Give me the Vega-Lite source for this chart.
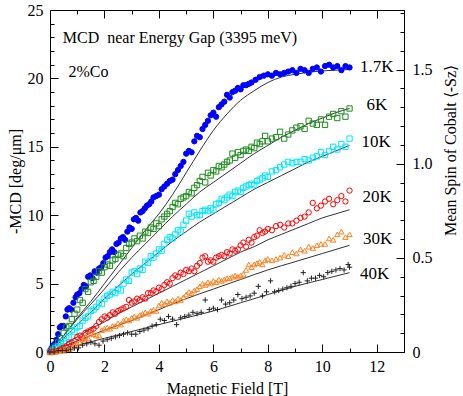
{
"$schema": "https://vega.github.io/schema/vega-lite/v6.json",
"width": 354, "height": 342,
"autosize": "none",
"padding": {"left": 50, "top": 10, "right": 59, "bottom": 44},
"config": {"font": "Liberation Serif", "view": {"stroke": "black", "strokeWidth": 1},
  "axis": {"labelFont": "Liberation Serif", "titleFont": "Liberation Serif", "labelFontSize": 16, "titleFontSize": 16, "titleFontWeight": "normal", "labelColor": "black", "titleColor": "black", "tickColor": "black", "tickWidth": 1, "domain": false, "grid": false, "labelOverlap": false, "labelFlush": false}},
"datasets": {
"pts": [
{"s":"1.7K","B":0.00,"M":0.1},{"s":"1.7K","B":0.06,"M":0.3},{"s":"1.7K","B":0.12,"M":0.5},{"s":"1.7K","B":0.18,"M":0.6},{"s":"1.7K","B":0.24,"M":0.9},{"s":"1.7K","B":0.30,"M":1.3},{"s":"1.7K","B":0.36,"M":1.8},{"s":"1.7K","B":0.42,"M":1.9},{"s":"1.7K","B":0.50,"M":1.9},{"s":"1.7K","B":0.58,"M":2.6},{"s":"1.7K","B":0.64,"M":3.1},{"s":"1.7K","B":0.70,"M":3.2},{"s":"1.7K","B":0.78,"M":3.1},{"s":"1.7K","B":0.86,"M":3.6},{"s":"1.7K","B":0.94,"M":4.0},{"s":"1.7K","B":1.00,"M":4.2},{"s":"1.7K","B":1.08,"M":4.3},{"s":"1.7K","B":1.16,"M":4.6},{"s":"1.7K","B":1.24,"M":4.9},{"s":"1.7K","B":1.32,"M":4.8},{"s":"1.7K","B":1.40,"M":5.5},{"s":"1.7K","B":1.48,"M":5.6},{"s":"1.7K","B":1.56,"M":5.4},{"s":"1.7K","B":1.64,"M":5.9},{"s":"1.7K","B":1.72,"M":5.8},{"s":"1.7K","B":1.80,"M":6.1},{"s":"1.7K","B":1.88,"M":6.2},{"s":"1.7K","B":1.96,"M":6.5},{"s":"1.7K","B":2.04,"M":6.9},{"s":"1.7K","B":2.12,"M":7.0},{"s":"1.7K","B":2.20,"M":7.3},{"s":"1.7K","B":2.28,"M":7.5},{"s":"1.7K","B":2.36,"M":7.3},{"s":"1.7K","B":2.44,"M":7.9},{"s":"1.7K","B":2.52,"M":8.0},{"s":"1.7K","B":2.60,"M":8.3},{"s":"1.7K","B":2.68,"M":8.4},{"s":"1.7K","B":2.76,"M":8.2},{"s":"1.7K","B":2.84,"M":8.8},{"s":"1.7K","B":2.92,"M":9.1},{"s":"1.7K","B":3.00,"M":9.0},{"s":"1.7K","B":3.08,"M":9.7},{"s":"1.7K","B":3.16,"M":9.8},{"s":"1.7K","B":3.24,"M":9.6},{"s":"1.7K","B":3.32,"M":10.2},{"s":"1.7K","B":3.40,"M":10.3},{"s":"1.7K","B":3.48,"M":10.5},{"s":"1.7K","B":3.56,"M":10.7},{"s":"1.7K","B":3.64,"M":10.8},{"s":"1.7K","B":3.72,"M":11.0},{"s":"1.7K","B":3.80,"M":11.3},{"s":"1.7K","B":3.90,"M":11.4},{"s":"1.7K","B":4.00,"M":11.5},{"s":"1.7K","B":4.10,"M":11.9},{"s":"1.7K","B":4.20,"M":12.1},{"s":"1.7K","B":4.30,"M":12.3},{"s":"1.7K","B":4.40,"M":12.5},{"s":"1.7K","B":4.50,"M":12.6},{"s":"1.7K","B":4.60,"M":13.0},{"s":"1.7K","B":4.70,"M":13.3},{"s":"1.7K","B":4.80,"M":13.6},{"s":"1.7K","B":4.90,"M":13.9},{"s":"1.7K","B":5.00,"M":14.5},{"s":"1.7K","B":5.10,"M":14.7},{"s":"1.7K","B":5.20,"M":14.6},{"s":"1.7K","B":5.30,"M":15.4},{"s":"1.7K","B":5.40,"M":15.8},{"s":"1.7K","B":5.50,"M":15.7},{"s":"1.7K","B":5.60,"M":16.3},{"s":"1.7K","B":5.70,"M":16.6},{"s":"1.7K","B":5.80,"M":16.9},{"s":"1.7K","B":5.90,"M":17.3},{"s":"1.7K","B":6.00,"M":17.5},{"s":"1.7K","B":6.10,"M":17.2},{"s":"1.7K","B":6.20,"M":17.9},{"s":"1.7K","B":6.30,"M":18.1},{"s":"1.7K","B":6.40,"M":18.3},{"s":"1.7K","B":6.50,"M":18.8},{"s":"1.7K","B":6.60,"M":18.6},{"s":"1.7K","B":6.70,"M":19.0},{"s":"1.7K","B":6.80,"M":19.1},{"s":"1.7K","B":6.90,"M":19.3},{"s":"1.7K","B":7.00,"M":19.2},{"s":"1.7K","B":7.10,"M":19.5},{"s":"1.7K","B":7.20,"M":19.5},{"s":"1.7K","B":7.30,"M":19.6},{"s":"1.7K","B":7.40,"M":19.7},{"s":"1.7K","B":7.55,"M":19.9},{"s":"1.7K","B":7.70,"M":20.1},{"s":"1.7K","B":7.85,"M":20.2},{"s":"1.7K","B":8.00,"M":20.3},{"s":"1.7K","B":8.15,"M":20.2},{"s":"1.7K","B":8.30,"M":20.4},{"s":"1.7K","B":8.45,"M":20.3},{"s":"1.7K","B":8.60,"M":20.4},{"s":"1.7K","B":8.75,"M":20.5},{"s":"1.7K","B":8.90,"M":20.6},{"s":"1.7K","B":9.05,"M":20.4},{"s":"1.7K","B":9.20,"M":20.7},{"s":"1.7K","B":9.35,"M":20.6},{"s":"1.7K","B":9.50,"M":20.4},{"s":"1.7K","B":9.65,"M":20.7},{"s":"1.7K","B":9.80,"M":20.8},{"s":"1.7K","B":9.95,"M":20.5},{"s":"1.7K","B":10.10,"M":20.9},{"s":"1.7K","B":10.25,"M":21.0},{"s":"1.7K","B":10.40,"M":20.8},{"s":"1.7K","B":10.55,"M":20.9},{"s":"1.7K","B":10.70,"M":20.6},{"s":"1.7K","B":10.85,"M":20.9},{"s":"1.7K","B":11.00,"M":20.8},
{"s":"6K","B":0.00,"M":0.0},{"s":"6K","B":0.10,"M":0.2},{"s":"6K","B":0.20,"M":0.4},{"s":"6K","B":0.30,"M":0.7},{"s":"6K","B":0.40,"M":1.0},{"s":"6K","B":0.50,"M":1.4},{"s":"6K","B":0.60,"M":1.8},{"s":"6K","B":0.70,"M":1.9},{"s":"6K","B":0.80,"M":2.4},{"s":"6K","B":0.90,"M":2.8},{"s":"6K","B":1.00,"M":3.1},{"s":"6K","B":1.10,"M":3.8},{"s":"6K","B":1.20,"M":3.6},{"s":"6K","B":1.30,"M":4.6},{"s":"6K","B":1.40,"M":4.4},{"s":"6K","B":1.50,"M":5.1},{"s":"6K","B":1.60,"M":5.2},{"s":"6K","B":1.70,"M":5.5},{"s":"6K","B":1.80,"M":5.9},{"s":"6K","B":1.90,"M":5.8},{"s":"6K","B":2.00,"M":6.2},{"s":"6K","B":2.10,"M":6.4},{"s":"6K","B":2.20,"M":6.3},{"s":"6K","B":2.30,"M":6.7},{"s":"6K","B":2.40,"M":6.8},{"s":"6K","B":2.50,"M":7.1},{"s":"6K","B":2.60,"M":7.2},{"s":"6K","B":2.70,"M":7.0},{"s":"6K","B":2.80,"M":7.6},{"s":"6K","B":2.90,"M":7.9},{"s":"6K","B":3.00,"M":8.0},{"s":"6K","B":3.10,"M":8.3},{"s":"6K","B":3.20,"M":8.1},{"s":"6K","B":3.30,"M":8.5},{"s":"6K","B":3.40,"M":8.3},{"s":"6K","B":3.50,"M":8.8},{"s":"6K","B":3.60,"M":8.7},{"s":"6K","B":3.70,"M":9.1},{"s":"6K","B":3.80,"M":9.0},{"s":"6K","B":3.90,"M":9.4},{"s":"6K","B":4.00,"M":9.2},{"s":"6K","B":4.10,"M":9.7},{"s":"6K","B":4.20,"M":9.9},{"s":"6K","B":4.30,"M":10.1},{"s":"6K","B":4.40,"M":10.3},{"s":"6K","B":4.50,"M":10.6},{"s":"6K","B":4.60,"M":10.9},{"s":"6K","B":4.70,"M":10.8},{"s":"6K","B":4.80,"M":11.2},{"s":"6K","B":4.90,"M":11.3},{"s":"6K","B":5.00,"M":11.4},{"s":"6K","B":5.10,"M":11.7},{"s":"6K","B":5.20,"M":11.6},{"s":"6K","B":5.30,"M":12.0},{"s":"6K","B":5.40,"M":12.2},{"s":"6K","B":5.50,"M":12.5},{"s":"6K","B":5.60,"M":12.8},{"s":"6K","B":5.70,"M":12.4},{"s":"6K","B":5.80,"M":13.1},{"s":"6K","B":5.90,"M":12.9},{"s":"6K","B":6.00,"M":13.3},{"s":"6K","B":6.10,"M":13.2},{"s":"6K","B":6.20,"M":13.6},{"s":"6K","B":6.30,"M":13.5},{"s":"6K","B":6.40,"M":13.7},{"s":"6K","B":6.50,"M":13.9},{"s":"6K","B":6.60,"M":14.0},{"s":"6K","B":6.70,"M":14.5},{"s":"6K","B":6.80,"M":14.2},{"s":"6K","B":6.90,"M":14.6},{"s":"6K","B":7.00,"M":14.4},{"s":"6K","B":7.10,"M":14.7},{"s":"6K","B":7.20,"M":14.8},{"s":"6K","B":7.30,"M":14.7},{"s":"6K","B":7.40,"M":15.0},{"s":"6K","B":7.50,"M":14.9},{"s":"6K","B":7.60,"M":15.3},{"s":"6K","B":7.70,"M":15.2},{"s":"6K","B":7.80,"M":15.4},{"s":"6K","B":7.90,"M":15.8},{"s":"6K","B":8.00,"M":15.4},{"s":"6K","B":8.15,"M":15.6},{"s":"6K","B":8.30,"M":15.7},{"s":"6K","B":8.45,"M":16.1},{"s":"6K","B":8.60,"M":15.6},{"s":"6K","B":8.75,"M":15.9},{"s":"6K","B":8.90,"M":16.2},{"s":"6K","B":9.05,"M":16.4},{"s":"6K","B":9.20,"M":16.5},{"s":"6K","B":9.35,"M":16.3},{"s":"6K","B":9.50,"M":16.9},{"s":"6K","B":9.65,"M":16.7},{"s":"6K","B":9.80,"M":16.6},{"s":"6K","B":9.95,"M":17.0},{"s":"6K","B":10.10,"M":16.6},{"s":"6K","B":10.25,"M":17.2},{"s":"6K","B":10.40,"M":17.4},{"s":"6K","B":10.55,"M":17.1},{"s":"6K","B":10.70,"M":17.6},{"s":"6K","B":10.85,"M":17.2},{"s":"6K","B":11.00,"M":17.8},
{"s":"10K","B":0.00,"M":0.0},{"s":"10K","B":0.10,"M":0.1},{"s":"10K","B":0.20,"M":0.3},{"s":"10K","B":0.30,"M":0.4},{"s":"10K","B":0.40,"M":0.6},{"s":"10K","B":0.50,"M":0.8},{"s":"10K","B":0.60,"M":1.0},{"s":"10K","B":0.70,"M":1.1},{"s":"10K","B":0.80,"M":1.6},{"s":"10K","B":0.90,"M":1.5},{"s":"10K","B":1.00,"M":1.8},{"s":"10K","B":1.10,"M":1.9},{"s":"10K","B":1.20,"M":2.3},{"s":"10K","B":1.30,"M":2.5},{"s":"10K","B":1.40,"M":2.6},{"s":"10K","B":1.50,"M":3.0},{"s":"10K","B":1.60,"M":3.1},{"s":"10K","B":1.70,"M":3.3},{"s":"10K","B":1.80,"M":3.6},{"s":"10K","B":1.90,"M":3.5},{"s":"10K","B":2.00,"M":3.9},{"s":"10K","B":2.10,"M":4.1},{"s":"10K","B":2.20,"M":4.2},{"s":"10K","B":2.30,"M":4.4},{"s":"10K","B":2.40,"M":4.3},{"s":"10K","B":2.50,"M":4.6},{"s":"10K","B":2.60,"M":4.5},{"s":"10K","B":2.70,"M":5.0},{"s":"10K","B":2.80,"M":5.3},{"s":"10K","B":2.90,"M":5.2},{"s":"10K","B":3.00,"M":5.8},{"s":"10K","B":3.10,"M":5.9},{"s":"10K","B":3.20,"M":5.7},{"s":"10K","B":3.30,"M":6.1},{"s":"10K","B":3.40,"M":6.0},{"s":"10K","B":3.50,"M":6.6},{"s":"10K","B":3.60,"M":6.5},{"s":"10K","B":3.70,"M":7.0},{"s":"10K","B":3.80,"M":6.9},{"s":"10K","B":3.90,"M":7.2},{"s":"10K","B":4.00,"M":7.5},{"s":"10K","B":4.10,"M":7.4},{"s":"10K","B":4.20,"M":7.9},{"s":"10K","B":4.30,"M":8.2},{"s":"10K","B":4.40,"M":8.4},{"s":"10K","B":4.50,"M":8.3},{"s":"10K","B":4.60,"M":8.6},{"s":"10K","B":4.70,"M":8.9},{"s":"10K","B":4.80,"M":8.8},{"s":"10K","B":4.90,"M":9.3},{"s":"10K","B":5.00,"M":9.6},{"s":"10K","B":5.10,"M":10.1},{"s":"10K","B":5.20,"M":9.9},{"s":"10K","B":5.30,"M":10.2},{"s":"10K","B":5.40,"M":10.0},{"s":"10K","B":5.50,"M":10.0},{"s":"10K","B":5.60,"M":10.3},{"s":"10K","B":5.70,"M":10.4},{"s":"10K","B":5.80,"M":10.3},{"s":"10K","B":5.90,"M":10.5},{"s":"10K","B":6.00,"M":10.4},{"s":"10K","B":6.10,"M":10.8},{"s":"10K","B":6.20,"M":10.9},{"s":"10K","B":6.30,"M":11.2},{"s":"10K","B":6.40,"M":11.1},{"s":"10K","B":6.50,"M":11.3},{"s":"10K","B":6.60,"M":11.5},{"s":"10K","B":6.70,"M":11.4},{"s":"10K","B":6.80,"M":11.7},{"s":"10K","B":6.90,"M":11.8},{"s":"10K","B":7.00,"M":11.7},{"s":"10K","B":7.10,"M":12.0},{"s":"10K","B":7.20,"M":12.1},{"s":"10K","B":7.30,"M":12.2},{"s":"10K","B":7.40,"M":12.3},{"s":"10K","B":7.50,"M":12.2},{"s":"10K","B":7.60,"M":12.5},{"s":"10K","B":7.70,"M":12.6},{"s":"10K","B":7.80,"M":12.7},{"s":"10K","B":7.90,"M":12.9},{"s":"10K","B":8.00,"M":12.8},{"s":"10K","B":8.15,"M":13.2},{"s":"10K","B":8.30,"M":13.3},{"s":"10K","B":8.45,"M":13.5},{"s":"10K","B":8.60,"M":13.7},{"s":"10K","B":8.75,"M":13.9},{"s":"10K","B":8.90,"M":13.8},{"s":"10K","B":9.05,"M":13.9},{"s":"10K","B":9.20,"M":13.9},{"s":"10K","B":9.35,"M":14.1},{"s":"10K","B":9.50,"M":14.0},{"s":"10K","B":9.65,"M":14.2},{"s":"10K","B":9.80,"M":14.3},{"s":"10K","B":9.95,"M":14.6},{"s":"10K","B":10.10,"M":14.4},{"s":"10K","B":10.25,"M":14.7},{"s":"10K","B":10.40,"M":15.0},{"s":"10K","B":10.55,"M":14.8},{"s":"10K","B":10.70,"M":15.2},{"s":"10K","B":10.85,"M":15.0},{"s":"10K","B":11.00,"M":15.6},
{"s":"20K","B":0.00,"M":0.0},{"s":"20K","B":0.10,"M":0.0},{"s":"20K","B":0.20,"M":0.1},{"s":"20K","B":0.30,"M":0.1},{"s":"20K","B":0.40,"M":0.2},{"s":"20K","B":0.50,"M":0.3},{"s":"20K","B":0.60,"M":0.4},{"s":"20K","B":0.70,"M":0.6},{"s":"20K","B":0.80,"M":0.7},{"s":"20K","B":0.90,"M":0.8},{"s":"20K","B":1.00,"M":1.1},{"s":"20K","B":1.10,"M":1.2},{"s":"20K","B":1.20,"M":1.0},{"s":"20K","B":1.30,"M":1.4},{"s":"20K","B":1.40,"M":1.5},{"s":"20K","B":1.50,"M":1.6},{"s":"20K","B":1.60,"M":1.7},{"s":"20K","B":1.70,"M":1.9},{"s":"20K","B":1.80,"M":2.2},{"s":"20K","B":1.90,"M":2.4},{"s":"20K","B":2.00,"M":2.6},{"s":"20K","B":2.10,"M":2.5},{"s":"20K","B":2.20,"M":2.7},{"s":"20K","B":2.30,"M":2.9},{"s":"20K","B":2.40,"M":2.8},{"s":"20K","B":2.50,"M":3.0},{"s":"20K","B":2.60,"M":3.1},{"s":"20K","B":2.70,"M":3.2},{"s":"20K","B":2.80,"M":3.3},{"s":"20K","B":2.90,"M":3.8},{"s":"20K","B":3.00,"M":3.6},{"s":"20K","B":3.10,"M":3.7},{"s":"20K","B":3.20,"M":3.9},{"s":"20K","B":3.30,"M":3.8},{"s":"20K","B":3.40,"M":4.0},{"s":"20K","B":3.50,"M":3.9},{"s":"20K","B":3.60,"M":4.3},{"s":"20K","B":3.70,"M":4.3},{"s":"20K","B":3.80,"M":4.5},{"s":"20K","B":3.90,"M":4.4},{"s":"20K","B":4.00,"M":4.7},{"s":"20K","B":4.10,"M":4.6},{"s":"20K","B":4.20,"M":4.9},{"s":"20K","B":4.30,"M":5.1},{"s":"20K","B":4.40,"M":5.0},{"s":"20K","B":4.50,"M":5.4},{"s":"20K","B":4.60,"M":5.6},{"s":"20K","B":4.70,"M":5.5},{"s":"20K","B":4.80,"M":5.8},{"s":"20K","B":4.90,"M":5.7},{"s":"20K","B":5.00,"M":6.0},{"s":"20K","B":5.10,"M":5.9},{"s":"20K","B":5.20,"M":6.1},{"s":"20K","B":5.30,"M":5.9},{"s":"20K","B":5.40,"M":6.3},{"s":"20K","B":5.50,"M":6.5},{"s":"20K","B":5.60,"M":6.9},{"s":"20K","B":5.70,"M":7.0},{"s":"20K","B":5.80,"M":6.6},{"s":"20K","B":5.90,"M":6.7},{"s":"20K","B":6.00,"M":6.6},{"s":"20K","B":6.10,"M":6.9},{"s":"20K","B":6.20,"M":7.0},{"s":"20K","B":6.30,"M":7.1},{"s":"20K","B":6.40,"M":7.0},{"s":"20K","B":6.50,"M":7.3},{"s":"20K","B":6.60,"M":7.2},{"s":"20K","B":6.70,"M":7.5},{"s":"20K","B":6.80,"M":7.4},{"s":"20K","B":6.90,"M":7.5},{"s":"20K","B":7.00,"M":7.8},{"s":"20K","B":7.10,"M":8.0},{"s":"20K","B":7.20,"M":7.7},{"s":"20K","B":7.30,"M":8.2},{"s":"20K","B":7.40,"M":8.0},{"s":"20K","B":7.50,"M":8.4},{"s":"20K","B":7.60,"M":8.5},{"s":"20K","B":7.70,"M":8.9},{"s":"20K","B":7.80,"M":8.7},{"s":"20K","B":7.90,"M":8.8},{"s":"20K","B":8.00,"M":9.0},{"s":"20K","B":8.15,"M":8.9},{"s":"20K","B":8.30,"M":9.2},{"s":"20K","B":8.45,"M":9.3},{"s":"20K","B":8.60,"M":9.1},{"s":"20K","B":8.75,"M":9.4},{"s":"20K","B":8.90,"M":9.4},{"s":"20K","B":9.05,"M":9.6},{"s":"20K","B":9.20,"M":9.8},{"s":"20K","B":9.35,"M":9.9},{"s":"20K","B":9.50,"M":10.2},{"s":"20K","B":9.65,"M":10.9},{"s":"20K","B":9.80,"M":10.5},{"s":"20K","B":9.95,"M":10.7},{"s":"20K","B":10.10,"M":11.0},{"s":"20K","B":10.25,"M":11.2},{"s":"20K","B":10.40,"M":10.8},{"s":"20K","B":10.55,"M":11.1},{"s":"20K","B":10.70,"M":11.4},{"s":"20K","B":10.85,"M":11.0},{"s":"20K","B":11.00,"M":11.8},
{"s":"30K","B":0.00,"M":0.0},{"s":"30K","B":0.10,"M":0.0},{"s":"30K","B":0.20,"M":0.0},{"s":"30K","B":0.30,"M":0.1},{"s":"30K","B":0.40,"M":0.1},{"s":"30K","B":0.50,"M":0.1},{"s":"30K","B":0.60,"M":0.2},{"s":"30K","B":0.70,"M":0.2},{"s":"30K","B":0.80,"M":0.3},{"s":"30K","B":0.90,"M":0.5},{"s":"30K","B":1.00,"M":0.6},{"s":"30K","B":1.10,"M":0.7},{"s":"30K","B":1.20,"M":0.9},{"s":"30K","B":1.30,"M":1.1},{"s":"30K","B":1.40,"M":1.0},{"s":"30K","B":1.50,"M":1.4},{"s":"30K","B":1.60,"M":1.3},{"s":"30K","B":1.70,"M":1.2},{"s":"30K","B":1.80,"M":1.2},{"s":"30K","B":1.90,"M":1.6},{"s":"30K","B":2.00,"M":1.7},{"s":"30K","B":2.10,"M":1.8},{"s":"30K","B":2.20,"M":1.7},{"s":"30K","B":2.30,"M":1.9},{"s":"30K","B":2.40,"M":1.9},{"s":"30K","B":2.50,"M":2.1},{"s":"30K","B":2.60,"M":2.0},{"s":"30K","B":2.70,"M":2.3},{"s":"30K","B":2.80,"M":2.4},{"s":"30K","B":2.90,"M":2.3},{"s":"30K","B":3.00,"M":2.5},{"s":"30K","B":3.10,"M":2.6},{"s":"30K","B":3.20,"M":2.5},{"s":"30K","B":3.30,"M":2.7},{"s":"30K","B":3.40,"M":2.8},{"s":"30K","B":3.50,"M":2.9},{"s":"30K","B":3.60,"M":2.8},{"s":"30K","B":3.70,"M":3.0},{"s":"30K","B":3.80,"M":3.1},{"s":"30K","B":3.90,"M":3.0},{"s":"30K","B":4.00,"M":3.4},{"s":"30K","B":4.10,"M":3.6},{"s":"30K","B":4.20,"M":3.5},{"s":"30K","B":4.30,"M":3.7},{"s":"30K","B":4.40,"M":3.6},{"s":"30K","B":4.50,"M":3.8},{"s":"30K","B":4.60,"M":3.7},{"s":"30K","B":4.70,"M":3.9},{"s":"30K","B":4.80,"M":3.8},{"s":"30K","B":4.90,"M":4.0},{"s":"30K","B":5.00,"M":4.2},{"s":"30K","B":5.10,"M":4.4},{"s":"30K","B":5.20,"M":4.3},{"s":"30K","B":5.30,"M":4.5},{"s":"30K","B":5.40,"M":4.6},{"s":"30K","B":5.50,"M":4.8},{"s":"30K","B":5.60,"M":5.0},{"s":"30K","B":5.70,"M":4.9},{"s":"30K","B":5.80,"M":5.1},{"s":"30K","B":5.90,"M":5.0},{"s":"30K","B":6.00,"M":5.2},{"s":"30K","B":6.10,"M":5.1},{"s":"30K","B":6.20,"M":5.3},{"s":"30K","B":6.30,"M":5.2},{"s":"30K","B":6.40,"M":5.3},{"s":"30K","B":6.50,"M":5.4},{"s":"30K","B":6.60,"M":5.4},{"s":"30K","B":6.70,"M":5.5},{"s":"30K","B":6.80,"M":5.6},{"s":"30K","B":6.90,"M":5.5},{"s":"30K","B":7.00,"M":5.6},{"s":"30K","B":7.10,"M":5.7},{"s":"30K","B":7.20,"M":6.0},{"s":"30K","B":7.30,"M":6.4},{"s":"30K","B":7.40,"M":6.2},{"s":"30K","B":7.50,"M":6.4},{"s":"30K","B":7.60,"M":6.5},{"s":"30K","B":7.70,"M":6.6},{"s":"30K","B":7.80,"M":6.4},{"s":"30K","B":7.90,"M":6.7},{"s":"30K","B":8.00,"M":6.8},{"s":"30K","B":8.15,"M":6.7},{"s":"30K","B":8.30,"M":6.8},{"s":"30K","B":8.45,"M":6.9},{"s":"30K","B":8.60,"M":7.1},{"s":"30K","B":8.75,"M":7.0},{"s":"30K","B":8.90,"M":7.3},{"s":"30K","B":9.05,"M":7.2},{"s":"30K","B":9.20,"M":7.5},{"s":"30K","B":9.35,"M":7.4},{"s":"30K","B":9.50,"M":7.7},{"s":"30K","B":9.65,"M":7.6},{"s":"30K","B":9.80,"M":7.8},{"s":"30K","B":9.95,"M":7.9},{"s":"30K","B":10.10,"M":7.9},{"s":"30K","B":10.25,"M":8.3},{"s":"30K","B":10.40,"M":8.2},{"s":"30K","B":10.55,"M":8.6},{"s":"30K","B":10.70,"M":8.8},{"s":"30K","B":10.85,"M":8.4},{"s":"30K","B":11.00,"M":8.6},
{"s":"40K","B":0.00,"M":0.0},{"s":"40K","B":0.15,"M":0.0},{"s":"40K","B":0.30,"M":0.1},{"s":"40K","B":0.45,"M":0.1},{"s":"40K","B":0.60,"M":0.1},{"s":"40K","B":0.75,"M":0.2},{"s":"40K","B":0.90,"M":0.3},{"s":"40K","B":1.05,"M":0.3},{"s":"40K","B":1.20,"M":0.5},{"s":"40K","B":1.35,"M":0.6},{"s":"40K","B":1.50,"M":0.7},{"s":"40K","B":1.65,"M":0.6},{"s":"40K","B":1.80,"M":0.5},{"s":"40K","B":1.95,"M":0.8},{"s":"40K","B":2.10,"M":0.9},{"s":"40K","B":2.25,"M":1.0},{"s":"40K","B":2.40,"M":1.1},{"s":"40K","B":2.55,"M":1.2},{"s":"40K","B":2.70,"M":1.3},{"s":"40K","B":2.85,"M":1.4},{"s":"40K","B":3.00,"M":1.3},{"s":"40K","B":3.15,"M":1.3},{"s":"40K","B":3.30,"M":1.5},{"s":"40K","B":3.45,"M":1.6},{"s":"40K","B":3.60,"M":1.7},{"s":"40K","B":3.75,"M":1.9},{"s":"40K","B":3.90,"M":2.0},{"s":"40K","B":4.05,"M":2.4},{"s":"40K","B":4.20,"M":2.3},{"s":"40K","B":4.35,"M":2.6},{"s":"40K","B":4.50,"M":2.4},{"s":"40K","B":4.65,"M":2.0},{"s":"40K","B":4.80,"M":2.5},{"s":"40K","B":4.95,"M":2.6},{"s":"40K","B":5.10,"M":2.7},{"s":"40K","B":5.25,"M":2.9},{"s":"40K","B":5.40,"M":2.8},{"s":"40K","B":5.55,"M":2.9},{"s":"40K","B":5.70,"M":3.8},{"s":"40K","B":5.85,"M":3.1},{"s":"40K","B":6.00,"M":3.2},{"s":"40K","B":6.15,"M":3.1},{"s":"40K","B":6.30,"M":3.8},{"s":"40K","B":6.45,"M":3.5},{"s":"40K","B":6.60,"M":3.6},{"s":"40K","B":6.75,"M":3.8},{"s":"40K","B":6.90,"M":4.2},{"s":"40K","B":7.05,"M":3.9},{"s":"40K","B":7.20,"M":4.0},{"s":"40K","B":7.35,"M":4.1},{"s":"40K","B":7.50,"M":4.3},{"s":"40K","B":7.65,"M":4.8},{"s":"40K","B":7.80,"M":4.1},{"s":"40K","B":7.95,"M":4.4},{"s":"40K","B":8.10,"M":5.2},{"s":"40K","B":8.25,"M":4.4},{"s":"40K","B":8.40,"M":4.5},{"s":"40K","B":8.55,"M":4.6},{"s":"40K","B":8.70,"M":4.7},{"s":"40K","B":8.85,"M":4.8},{"s":"40K","B":9.00,"M":5.0},{"s":"40K","B":9.15,"M":5.1},{"s":"40K","B":9.30,"M":5.8},{"s":"40K","B":9.45,"M":5.2},{"s":"40K","B":9.60,"M":5.4},{"s":"40K","B":9.75,"M":5.4},{"s":"40K","B":9.90,"M":5.6},{"s":"40K","B":10.05,"M":5.5},{"s":"40K","B":10.20,"M":5.8},{"s":"40K","B":10.35,"M":5.9},{"s":"40K","B":10.50,"M":6.0},{"s":"40K","B":10.65,"M":6.1},{"s":"40K","B":10.80,"M":6.0},{"s":"40K","B":10.95,"M":6.4},{"s":"40K","B":11.00,"M":6.2}
],
"fits": [
{"s":"1.7K","B":0,"M":0},{"s":"1.7K","B":0.5,"M":1.2},{"s":"1.7K","B":1,"M":2.5},{"s":"1.7K","B":1.5,"M":3.7},{"s":"1.7K","B":2,"M":5.0},{"s":"1.7K","B":2.5,"M":6.3},{"s":"1.7K","B":3,"M":7.6},{"s":"1.7K","B":3.5,"M":8.9},{"s":"1.7K","B":4,"M":10.1},{"s":"1.7K","B":4.5,"M":11.5},{"s":"1.7K","B":5,"M":13.1},{"s":"1.7K","B":5.5,"M":14.7},{"s":"1.7K","B":6,"M":16.2},{"s":"1.7K","B":6.5,"M":17.4},{"s":"1.7K","B":7,"M":18.4},{"s":"1.7K","B":7.5,"M":19.1},{"s":"1.7K","B":8,"M":19.7},{"s":"1.7K","B":8.5,"M":20.1},{"s":"1.7K","B":9,"M":20.3},{"s":"1.7K","B":9.5,"M":20.45},{"s":"1.7K","B":10,"M":20.55},{"s":"1.7K","B":10.5,"M":20.6},{"s":"1.7K","B":11,"M":20.65},
{"s":"6K","B":0,"M":0},{"s":"6K","B":0.5,"M":1.2},{"s":"6K","B":1,"M":2.4},{"s":"6K","B":1.5,"M":3.5},{"s":"6K","B":2,"M":4.6},{"s":"6K","B":2.5,"M":5.8},{"s":"6K","B":3,"M":6.9},{"s":"6K","B":3.5,"M":7.9},{"s":"6K","B":4,"M":8.9},{"s":"6K","B":4.5,"M":9.9},{"s":"6K","B":5,"M":10.8},{"s":"6K","B":5.5,"M":11.7},{"s":"6K","B":6,"M":12.4},{"s":"6K","B":6.5,"M":13.1},{"s":"6K","B":7,"M":13.8},{"s":"6K","B":7.5,"M":14.5},{"s":"6K","B":8,"M":15.1},{"s":"6K","B":8.5,"M":15.7},{"s":"6K","B":9,"M":16.2},{"s":"6K","B":9.5,"M":16.7},{"s":"6K","B":10,"M":17.1},{"s":"6K","B":10.5,"M":17.5},{"s":"6K","B":11,"M":17.8},
{"s":"10K","B":0,"M":0},{"s":"10K","B":0.5,"M":1.0},{"s":"10K","B":1,"M":2.0},{"s":"10K","B":1.5,"M":2.9},{"s":"10K","B":2,"M":3.9},{"s":"10K","B":2.5,"M":4.8},{"s":"10K","B":3,"M":5.7},{"s":"10K","B":3.5,"M":6.5},{"s":"10K","B":4,"M":7.3},{"s":"10K","B":4.5,"M":8.1},{"s":"10K","B":5,"M":8.8},{"s":"10K","B":5.5,"M":9.5},{"s":"10K","B":6,"M":10.1},{"s":"10K","B":6.5,"M":10.7},{"s":"10K","B":7,"M":11.3},{"s":"10K","B":7.5,"M":11.9},{"s":"10K","B":8,"M":12.4},{"s":"10K","B":8.5,"M":12.9},{"s":"10K","B":9,"M":13.4},{"s":"10K","B":9.5,"M":13.9},{"s":"10K","B":10,"M":14.3},{"s":"10K","B":10.5,"M":14.7},{"s":"10K","B":11,"M":15.1},
{"s":"20K","B":0,"M":0},{"s":"20K","B":0.5,"M":0.55},{"s":"20K","B":1,"M":1.1},{"s":"20K","B":1.5,"M":1.7},{"s":"20K","B":2,"M":2.2},{"s":"20K","B":2.5,"M":2.8},{"s":"20K","B":3,"M":3.3},{"s":"20K","B":3.5,"M":3.8},{"s":"20K","B":4,"M":4.3},{"s":"20K","B":4.5,"M":4.8},{"s":"20K","B":5,"M":5.3},{"s":"20K","B":5.5,"M":5.8},{"s":"20K","B":6,"M":6.3},{"s":"20K","B":6.5,"M":6.8},{"s":"20K","B":7,"M":7.3},{"s":"20K","B":7.5,"M":7.7},{"s":"20K","B":8,"M":8.2},{"s":"20K","B":8.5,"M":8.6},{"s":"20K","B":9,"M":9.0},{"s":"20K","B":9.5,"M":9.4},{"s":"20K","B":10,"M":9.8},{"s":"20K","B":10.5,"M":10.1},{"s":"20K","B":11,"M":10.4},
{"s":"30K","B":0,"M":0},{"s":"30K","B":1,"M":0.8},{"s":"30K","B":2,"M":1.6},{"s":"30K","B":3,"M":2.3},{"s":"30K","B":4,"M":3.1},{"s":"30K","B":5,"M":3.9},{"s":"30K","B":6,"M":4.6},{"s":"30K","B":7,"M":5.3},{"s":"30K","B":8,"M":6.0},{"s":"30K","B":9,"M":6.6},{"s":"30K","B":10,"M":7.2},{"s":"30K","B":11,"M":7.8},
{"s":"40K","B":0,"M":0},{"s":"40K","B":1,"M":0.5},{"s":"40K","B":2,"M":1.0},{"s":"40K","B":3,"M":1.5},{"s":"40K","B":4,"M":2.0},{"s":"40K","B":5,"M":2.5},{"s":"40K","B":6,"M":3.0},{"s":"40K","B":7,"M":3.6},{"s":"40K","B":8,"M":4.2},{"s":"40K","B":9,"M":4.8},{"s":"40K","B":10,"M":5.3},{"s":"40K","B":11,"M":5.8}
],
"notes": [
{"B":0.47,"M":22.6,"t":"MCD \u00a0near Energy Gap (3395 meV)"},
{"B":0.68,"M":20.1,"t":"2%Co"}
],
"temps": [
{"B":11.38,"M":20.5,"t":"1.7K"},{"B":11.62,"M":17.7,"t":"6K"},{"B":11.44,"M":14.95,"t":"10K"},{"B":11.48,"M":11.0,"t":"20K"},{"B":11.49,"M":7.86,"t":"30K"},{"B":11.38,"M":5.3,"t":"40K"}
],
"frame": [{"B":0,"S":0},{"B":13,"S":1.816}]
},
"resolve": {"scale": {"y": "independent"}, "axis": {"x": "independent", "y": "independent"}},
"layer": [
{
 "data": {"name": "fits"},
 "mark": {"type": "line", "interpolate": "monotone", "color": "#333333", "strokeWidth": 1},
 "encoding": {
  "x": {"field": "B", "type": "quantitative", "scale": {"domain": [0, 13], "nice": false},
    "axis": {"orient": "bottom", "values": [0,1,2,3,4,5,6,7,8,9,10,11,12,13],
      "tickSize": {"condition": {"test": "datum.value % 2 === 0", "value": -8}, "value": -4},
      "labelExpr": "datum.value % 2 === 0 ? datum.label : ''", "labelPadding": 14, "title": "Magnetic Field [T]", "titlePadding": 2}},
  "y": {"field": "M", "type": "quantitative", "scale": {"domain": [0, 25], "nice": false},
    "axis": {"orient": "left", "values": [0,1,2,3,4,5,6,7,8,9,10,11,12,13,14,15,16,17,18,19,20,21,22,23,24,25],
      "tickSize": {"condition": {"test": "datum.value % 5 === 0", "value": -8}, "value": -4},
      "labelExpr": "datum.value % 5 === 0 ? datum.label : ''", "labelPadding": 15, "title": "-MCD [deg/μm]", "titlePadding": 4}},
  "detail": {"field": "s"}
 }
},
{
 "data": {"name": "pts"},
 "mark": {"type": "point", "size": 28, "strokeWidth": 1, "opacity": 1},
 "encoding": {
  "x": {"field": "B", "type": "quantitative", "scale": {"domain": [0, 13], "nice": false}, "axis": null},
  "y": {"field": "M", "type": "quantitative", "scale": {"domain": [0, 25], "nice": false}, "axis": null},
  "shape": {"field": "s", "type": "nominal", "legend": null, "scale": {"domain": ["1.7K","6K","10K","20K","30K","40K"], "range": ["circle","square","square","circle","triangle-up","M-1,0H1M0,-1V1"]}},
  "stroke": {"field": "s", "type": "nominal", "legend": null, "scale": {"domain": ["1.7K","6K","10K","20K","30K","40K"], "range": ["#0000ff","#1e8c1e","#00e5ff","#ff0000","#ff7f1a","#222222"]}},
  "fill": {"field": "s", "type": "nominal", "legend": null, "scale": {"domain": ["1.7K","6K","10K","20K","30K","40K"], "range": ["#0000ff","transparent","transparent","transparent","transparent","transparent"]}}
 }
},
{
 "data": {"name": "notes"},
 "mark": {"type": "text", "align": "left", "baseline": "alphabetic", "fontSize": 16, "font": "Liberation Serif", "color": "black"},
 "encoding": {
  "x": {"field": "B", "type": "quantitative", "scale": {"domain": [0, 13], "nice": false}, "axis": null},
  "y": {"field": "M", "type": "quantitative", "scale": {"domain": [0, 25], "nice": false}, "axis": null},
  "text": {"field": "t"}
 }
},
{
 "data": {"name": "temps"},
 "mark": {"type": "text", "align": "left", "baseline": "alphabetic", "fontSize": 17, "font": "Liberation Serif", "color": "black"},
 "encoding": {
  "x": {"field": "B", "type": "quantitative", "scale": {"domain": [0, 13], "nice": false}, "axis": null},
  "y": {"field": "M", "type": "quantitative", "scale": {"domain": [0, 25], "nice": false}, "axis": null},
  "text": {"field": "t"}
 }
},
{
 "data": {"name": "frame"},
 "mark": {"type": "point", "opacity": 0},
 "encoding": {
  "x": {"field": "B", "type": "quantitative", "scale": {"domain": [0, 13], "nice": false},
    "axis": {"orient": "top", "values": [0,1,2,3,4,5,6,7,8,9,10,11,12,13],
      "tickSize": {"condition": {"test": "datum.value % 2 === 0", "value": -8}, "value": -4},
      "labels": false, "title": null}},
  "y": {"field": "S", "type": "quantitative", "scale": {"domain": [0, 1.816], "nice": false},
    "axis": {"orient": "right", "values": [0,0.1,0.2,0.3,0.4,0.5,0.6,0.7,0.8,0.9,1.0,1.1,1.2,1.3,1.4,1.5,1.6,1.7,1.8],
      "tickSize": {"condition": {"test": "round(datum.value*10) % 5 === 0", "value": -8}, "value": -4},
      "labelExpr": "datum.value === 0 ? '0' : (round(datum.value*10) % 5 === 0 ? format(datum.value, '.1f') : '')",
      "labelPadding": 16, "title": "Mean Spin of Cobalt ⟨-Sz⟩", "titleAngle": 270, "titleX": 46, "titleY": 140, "titleAlign": "center", "titleBaseline": "middle"}}
 }
}
]
}
